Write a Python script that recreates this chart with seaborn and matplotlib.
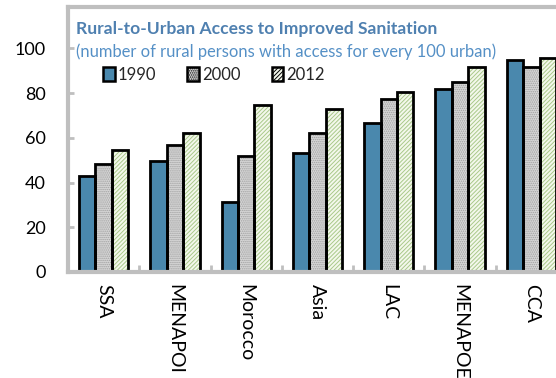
import matplotlib
matplotlib.use("Agg")
import matplotlib.pyplot as plt
from matplotlib.patches import Rectangle, Patch
from matplotlib.ticker import FixedLocator, NullFormatter
import pandas as pd
import seaborn as sns

# Data
regions = ["SSA", "MENAPOI", "Morocco", "Asia", "LAC", "MENAPOE", "CCA"]
years = ["1990", "2000", "2012"]
v1990 = [43, 49.5, 31.5, 53, 66.5, 82, 95]
v2000 = [48.5, 57, 52, 62, 77.5, 85, 91.5]
v2012 = [54.5, 62, 74.5, 73, 80.5, 91.5, 95.5]

title = "Rural-to-Urban Access to Improved Sanitation"
subtitle = "(number of rural persons with access for every 100 urban)"

df = pd.DataFrame({
    "region": regions * 3,
    "year": [years[0]] * 7 + [years[1]] * 7 + [years[2]] * 7,
    "value": v1990 + v2000 + v2012,
})

sns.set_theme(style="white")
plt.rcParams["font.family"] = ["Lato", "DejaVu Sans"]
plt.rcParams["hatch.linewidth"] = 0.7

face = {"1990": "#4A88AD", "2000": "#D6D6D6", "2012": "#F4F8EC"}
hatch = {"1990": None, "2000": "........", "2012": "////////"}
hatch_col = {"1990": "#4A88AD", "2000": "#A0A0A0", "2012": "#A9C98A"}

fig = plt.figure(figsize=(5.56, 3.78), dpi=100)
ax = fig.add_axes([68 / 556, 1 - 272 / 378, 499 / 556, 265 / 378])

sns.barplot(data=df, x="region", y="value", hue="year", order=regions,
            hue_order=years, palette=face, width=0.69, gap=0,
            legend=False, ax=ax, saturation=1)

# Style each bar: hatch drawn in its own colour, black outline on top
for cont, yr in zip(ax.containers, years):
    for bar in cont:
        bar.set_facecolor(face[yr])
        bar.set_edgecolor(hatch_col[yr])
        bar.set_linewidth(0)
        if hatch[yr]:
            bar.set_hatch(hatch[yr])
        ax.add_patch(Rectangle(bar.get_xy(), bar.get_width(), bar.get_height(),
                               fill=False, edgecolor="black", linewidth=2.0,
                               zorder=bar.get_zorder() + 0.1))

ax.set_xlim(-0.5, 6.5)
ax.set_ylim(0, 118.5)
ax.set_yticks([0, 20, 40, 60, 80, 100])
ax.set_xlabel("")
ax.set_ylabel("")

ax.set_xticks(range(len(regions)))
ax.set_xticklabels(regions, rotation=270, ha="center", va="top", fontsize=14)
ax.xaxis.set_minor_locator(FixedLocator([i + 0.5 for i in range(len(regions) - 1)]))
ax.xaxis.set_minor_formatter(NullFormatter())
ax.tick_params(axis="x", which="major", length=0, pad=9, colors="black")
ax.tick_params(axis="x", which="minor", direction="in", length=5, width=2,
               color="#BFBFBF", bottom=True)
ax.tick_params(axis="y", which="major", direction="in", length=4, width=2,
               color="#BFBFBF", labelsize=13, pad=16, left=True)
for lab in ax.get_yticklabels():
    lab.set_color("black")

for side in ["left", "top", "bottom"]:
    ax.spines[side].set_color("#BFBFBF")
    ax.spines[side].set_linewidth(3)
ax.spines["right"].set_visible(False)

ax.text(0.017, 0.917, title, transform=ax.transAxes, fontsize=12.6,
        fontweight="bold", color="#4F80B0", ha="left", va="center")
ax.text(0.017, 0.832, subtitle, transform=ax.transAxes, fontsize=11.9,
        color="#5590C6", ha="left", va="center")

handles = [Patch(facecolor=face[y], edgecolor="black", linewidth=1.8,
                 hatch=hatch[y]) for y in years]
leg = ax.legend(handles, years, ncol=3, loc="upper left",
                bbox_to_anchor=(0.04, 0.83), frameon=False, fontsize=12,
                handlelength=0.7, handleheight=0.9, handletextpad=0.2,
                columnspacing=1.85)

fig.savefig("out.png", dpi=100)
